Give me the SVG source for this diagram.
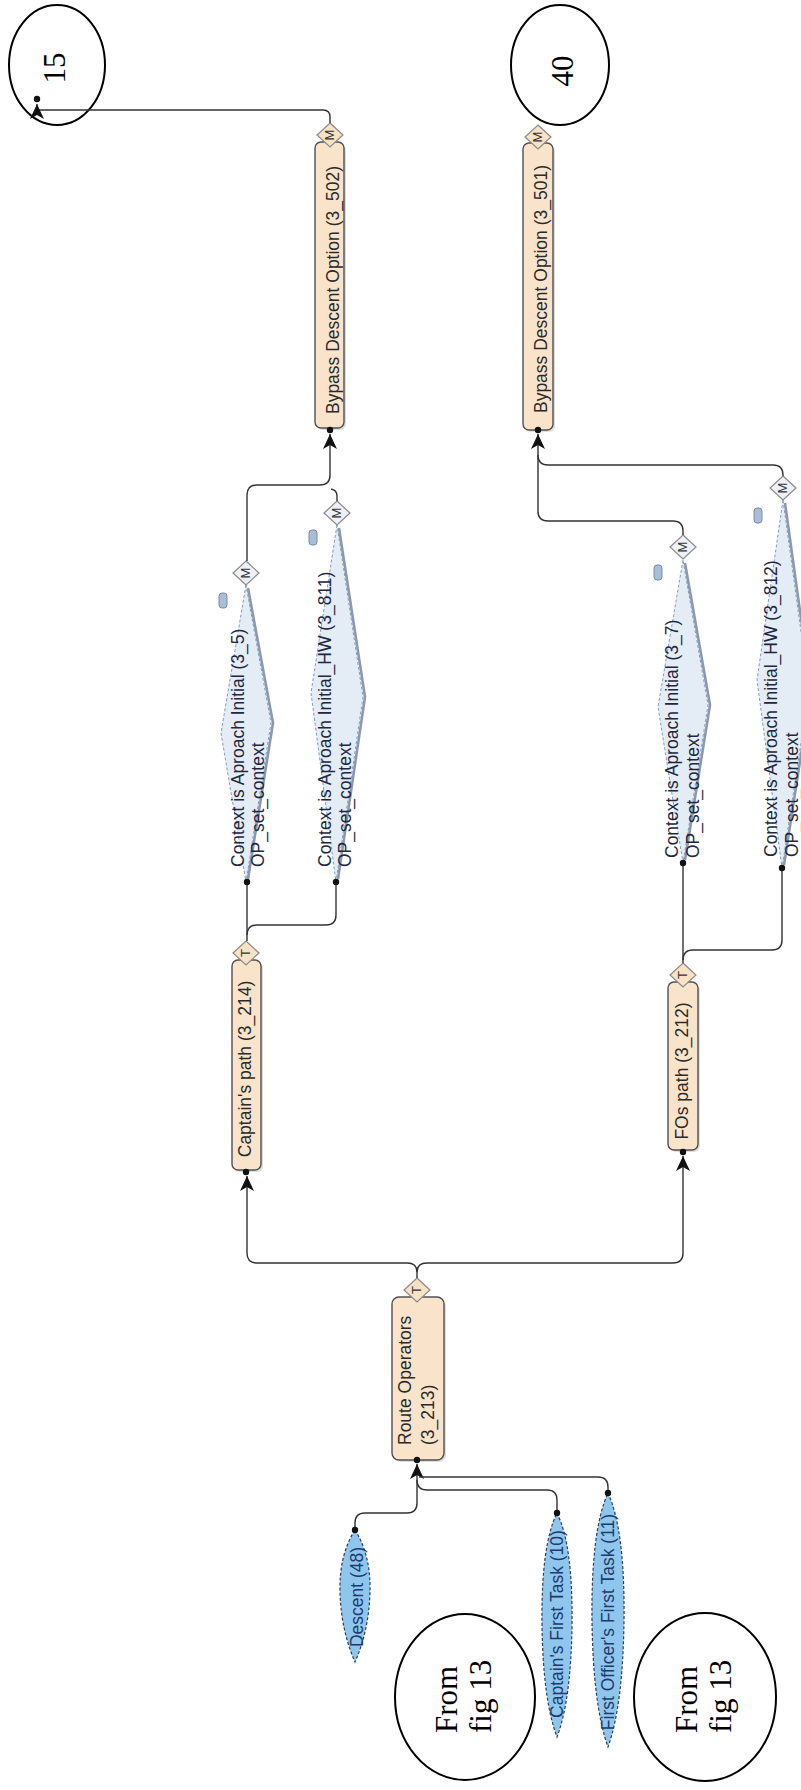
<svg xmlns="http://www.w3.org/2000/svg" width="801" height="1790" viewBox="0 0 801 1790">
<style>
.bg{fill:#ffffff}
.task{fill:#f9e4cb;stroke:#505050;stroke-width:1.4}
.shadow{fill:#c8c8c8;opacity:0.6}
.lbl{font-family:"Liberation Sans",Arial,sans-serif;font-size:17.5px;fill:#2a2a2a}
.ctx{fill:#e4ecf6;stroke:#7f9cc4;stroke-width:1;stroke-dasharray:3 2}
.ctxedge{fill:none;stroke:#8c99ad;stroke-width:2.6;stroke-linejoin:round}
.ctxlbl{font-family:"Liberation Sans",Arial,sans-serif;font-size:17.5px;fill:#1e2740}
.leaf{fill:#8ec6ee;stroke:#2e3d55;stroke-width:1.2;stroke-dasharray:3 2}
.leaflbl{font-family:"Liberation Sans",Arial,sans-serif;font-size:17.5px;fill:#213a6b}
.dec{stroke:#8a8a8a;stroke-width:1.2}
.decT{fill:#f7e2c4}
.decM{fill:#eef2f8}
.declbl{font-family:"Liberation Sans",Arial,sans-serif;font-size:13px;fill:#333}
.icon{fill:#a9bdd6;stroke:#7a8ca6;stroke-width:1}
.circ{fill:#ffffff;stroke:#000;stroke-width:2}
.serif{font-family:"Liberation Serif","Times New Roman",serif;font-size:31px;fill:#000}
.conn{fill:none;stroke:#333;stroke-width:1.4}
.dot{fill:#111}
</style>
<defs>
<marker id="arr" markerUnits="userSpaceOnUse" markerWidth="16" markerHeight="14" refX="15" refY="7" orient="auto">
<path d="M0,0 L15,7 L0,14 L4,7 Z" fill="#111"/>
</marker>
<polygon id="dia" points="0,-12 13,0 0,12 -13,0"/>
</defs>
<rect class="bg" x="0" y="0" width="801" height="1790"/>

<g id="node-15">
<ellipse class="circ" cx="57" cy="65" rx="48" ry="60"/>
<text class="serif" transform="translate(65,68) rotate(-90)" text-anchor="middle">15</text>
</g>
<g id="node-40">
<ellipse class="circ" cx="560" cy="65" rx="49" ry="60"/>
<text class="serif" transform="translate(573,71) rotate(-90)" text-anchor="middle">40</text>
</g>

<g id="node-3_502">
<rect class="shadow" x="317" y="144" width="29" height="286" rx="6"/>
<rect class="task" x="315" y="142" width="29" height="286" rx="6"/>
<text class="lbl" transform="translate(339,290) rotate(-90)" text-anchor="middle">Bypass Descent Option (3_502)</text>
<use href="#dia" class="dec decT" x="330" y="135"/>
<text class="declbl" transform="translate(334,135) rotate(-90)" text-anchor="middle">M</text>
</g>
<g id="node-3_501">
<rect class="shadow" x="525" y="145" width="30" height="287" rx="6"/>
<rect class="task" x="523" y="143" width="30" height="287" rx="6"/>
<text class="lbl" transform="translate(547,289) rotate(-90)" text-anchor="middle">Bypass Descent Option (3_501)</text>
<use href="#dia" class="dec decT" x="538" y="137"/>
<text class="declbl" transform="translate(542,137) rotate(-90)" text-anchor="middle">M</text>
</g>

<g id="node-3_5">
<polygon class="ctx" points="246,585 221,733 246,882 271,723"/>
<path class="ctxedge" d="M248,588 L273,723 L248,879"/>
<rect class="icon" x="219" y="593" width="8" height="15" rx="3"/>
<text class="ctxlbl" transform="translate(244,867) rotate(-90)"><tspan x="0" y="0">Context is Aproach Initial (3_5)</tspan><tspan x="0" dy="20">OP_set_context</tspan></text>
<use href="#dia" class="dec decM" x="246" y="573"/>
<text class="declbl" transform="translate(250,573) rotate(-90)" text-anchor="middle">M</text>
</g>
<g id="node-3_811">
<polygon class="ctx" points="337,525 311,693 336,882 363,697"/>
<path class="ctxedge" d="M339,528 L365,697 L338,879"/>
<rect class="icon" x="309" y="530" width="8" height="15" rx="3"/>
<text class="ctxlbl" transform="translate(331,867) rotate(-90)"><tspan x="0" y="0">Context is Aproach Initial_HW (3_811)</tspan><tspan x="0" dy="20">OP_set_context</tspan></text>
<use href="#dia" class="dec decM" x="337" y="513"/>
<text class="declbl" transform="translate(341,513) rotate(-90)" text-anchor="middle">M</text>
</g>
<g id="node-3_7">
<polygon class="ctx" points="683,560 658,707 683,863 708,705"/>
<path class="ctxedge" d="M685,563 L710,705 L685,860"/>
<rect class="icon" x="654" y="565" width="8" height="15" rx="3"/>
<text class="ctxlbl" transform="translate(678,858) rotate(-90)"><tspan x="0" y="0">Context is Aproach Initial (3_7)</tspan><tspan x="0" dy="21">OP_set_context</tspan></text>
<use href="#dia" class="dec decM" x="683" y="547"/>
<text class="declbl" transform="translate(687,547) rotate(-90)" text-anchor="middle">M</text>
</g>
<g id="node-3_812">
<polygon class="ctx" points="783,500 757,680 782,868 809,690"/>
<path class="ctxedge" d="M785,503 L811,690 L784,865"/>
<rect class="icon" x="754" y="508" width="8" height="15" rx="3"/>
<text class="ctxlbl" transform="translate(777,857) rotate(-90)"><tspan x="0" y="0">Context is Aproach Initial_HW (3_812)</tspan><tspan x="0" dy="21">OP_set_context</tspan></text>
<use href="#dia" class="dec decM" x="783" y="488"/>
<text class="declbl" transform="translate(787,488) rotate(-90)" text-anchor="middle">M</text>
</g>

<g id="node-3_214">
<rect class="shadow" x="234" y="962" width="29" height="210" rx="6"/>
<rect class="task" x="232" y="960" width="29" height="210" rx="6"/>
<text class="lbl" transform="translate(251,1069) rotate(-90)" text-anchor="middle">Captain's path (3_214)</text>
<use href="#dia" class="dec decT" x="246" y="953"/>
<text class="declbl" transform="translate(250,953) rotate(-90)" text-anchor="middle">T</text>
</g>
<g id="node-3_212">
<rect class="shadow" x="670" y="984" width="30" height="168" rx="6"/>
<rect class="task" x="668" y="982" width="30" height="168" rx="6"/>
<text class="lbl" transform="translate(688,1071) rotate(-90)" text-anchor="middle">FOs path (3_212)</text>
<use href="#dia" class="dec decT" x="683" y="975"/>
<text class="declbl" transform="translate(687,975) rotate(-90)" text-anchor="middle">T</text>
</g>

<g id="node-3_213">
<rect class="shadow" x="394" y="1299" width="52" height="163" rx="7"/>
<rect class="task" x="392" y="1297" width="52" height="163" rx="7"/>
<text class="lbl" transform="translate(411,1445) rotate(-90)"><tspan x="0" y="0">Route Operators</tspan><tspan x="0" dy="23">(3_213)</tspan></text>
<use href="#dia" class="dec decT" x="417" y="1290"/>
<text class="declbl" transform="translate(421,1290) rotate(-90)" text-anchor="middle">T</text>
</g>

<g id="node-descent">
<path class="leaf" d="M355,1530 Q371,1555 370,1592 Q369,1630 355,1662 Q341,1630 340,1592 Q339,1555 355,1530 Z"/>
<text class="leaflbl" transform="translate(363,1597) rotate(-90)" text-anchor="middle">Descent (48)</text>
</g>
<g id="node-captain-first">
<path class="leaf" d="M557,1513 Q573,1545 572,1625 Q571,1700 557,1737 Q543,1700 542,1625 Q541,1545 557,1513 Z"/>
<text class="leaflbl" transform="translate(563,1624) rotate(-90)" text-anchor="middle">Captain's First Task (10)</text>
</g>
<g id="node-fo-first">
<path class="leaf" d="M608,1493 Q625,1530 624,1620 Q623,1705 608,1747 Q593,1705 592,1620 Q591,1530 608,1493 Z"/>
<text class="leaflbl" transform="translate(614,1622) rotate(-90)" text-anchor="middle">First Officer's First Task (11)</text>
</g>

<g id="node-from1">
<ellipse class="circ" cx="465" cy="1697" rx="70" ry="83"/>
<text class="serif" transform="translate(457,1733) rotate(-90)"><tspan x="0" y="0">From</tspan><tspan x="0" dy="34">fig 13</tspan></text>
</g>
<g id="node-from2">
<ellipse class="circ" cx="705" cy="1697" rx="71" ry="84"/>
<text class="serif" transform="translate(697,1733) rotate(-90)"><tspan x="0" y="0">From</tspan><tspan x="0" dy="34">fig 13</tspan></text>
</g>

<g id="connectors">
<path class="conn" d="M330,123 V117 Q330,110 323,110 H37 V104" marker-end="url(#arr)"/>
<circle class="dot" cx="37" cy="99" r="3.2"/>
<path class="conn" d="M247,561 V495 Q247,485 257,485 H320 Q330,485 330,475 V434" marker-end="url(#arr)"/>
<path class="conn" d="M337,501 V496 Q337,490 331,489"/>
<circle class="dot" cx="330" cy="430" r="3.2"/>
<path class="conn" d="M683,535 V531 Q683,521 673,521 H548 Q538,521 538,511 V434" marker-end="url(#arr)"/>
<path class="conn" d="M783,476 V475 Q783,465 773,465 H548 Q538,465 538,455"/>
<circle class="dot" cx="538" cy="430" r="3.2"/>
<path class="conn" d="M247,941 V882"/>
<path class="conn" d="M336,882 V915 Q336,925 326,925 H257 Q247,925 247,935"/>
<circle class="dot" cx="247" cy="882" r="3.2"/>
<circle class="dot" cx="336" cy="882" r="3.2"/>
<path class="conn" d="M683,963 V863"/>
<path class="conn" d="M782,868 V940 Q782,950 772,950 H693 Q683,950 683,960"/>
<circle class="dot" cx="683" cy="863" r="3.2"/>
<circle class="dot" cx="782" cy="868" r="3.2"/>
<path class="conn" d="M417,1278 V1272 Q417,1263 407,1263 H257 Q247,1263 247,1253 V1176" marker-end="url(#arr)"/>
<path class="conn" d="M417,1272 Q417,1263 427,1263 H673 Q683,1263 683,1253 V1156" marker-end="url(#arr)"/>
<circle class="dot" cx="246" cy="1172" r="3.2"/>
<circle class="dot" cx="683" cy="1152" r="3.2"/>
<path class="conn" d="M355,1530 V1523 Q355,1513 365,1513 H407 Q417,1513 417,1503 V1464" marker-end="url(#arr)"/>
<path class="conn" d="M557,1513 V1500 Q557,1490 547,1490 H427 Q417,1490 417,1480"/>
<path class="conn" d="M608,1493 V1487 Q608,1477 598,1477 H419"/>
<circle class="dot" cx="417" cy="1460" r="3.2"/>
<circle class="dot" cx="355" cy="1530" r="3.2"/>
<circle class="dot" cx="557" cy="1513" r="3.2"/>
<circle class="dot" cx="608" cy="1493" r="3.2"/>
</g>
</svg>
